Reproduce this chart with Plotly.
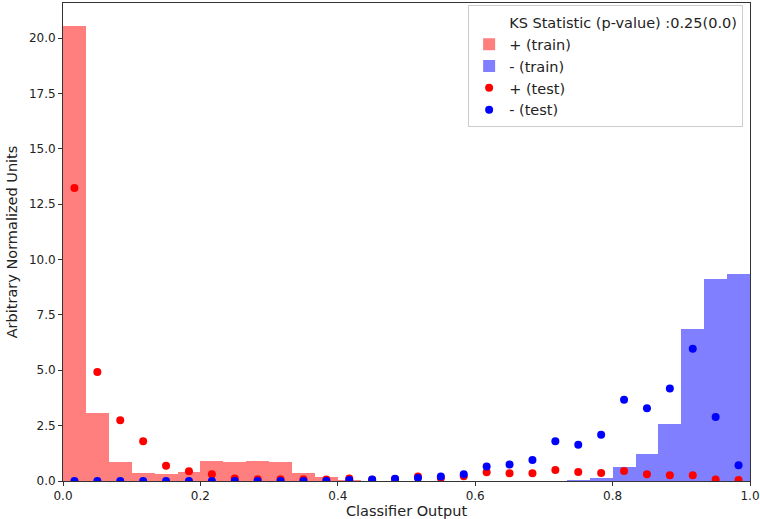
import numpy as np
import plotly.graph_objects as go

# 30 equal bins on [0, 1]
n_bins = 30
red_train = [20.55, 3.06, 0.86, 0.36, 0.32, 0.41, 0.91, 0.86, 0.91, 0.86,
             0.36, 0.18, 0.06, 0.0, 0.0, 0.0, 0.0, 0.0, 0.0, 0.0,
             0.0, 0.0, 0.0, 0.0, 0.0, 0.0, 0.0, 0.0, 0.0, 0.0]
blue_train = [0.0, 0.0, 0.0, 0.0, 0.0, 0.0, 0.0, 0.0, 0.0, 0.0,
              0.0, 0.0, 0.0, 0.0, 0.0, 0.0, 0.0, 0.0, 0.0, 0.0,
              0.0, 0.0, 0.03, 0.12, 0.64, 1.21, 2.56, 6.86, 9.10, 9.33]
red_test = [13.23, 4.92, 2.74, 1.79, 0.69, 0.44, 0.30, 0.11, 0.08, 0.08,
            0.08, 0.07, 0.11, 0.06, 0.09, 0.20, 0.13, 0.22, 0.39, 0.35,
            0.35, 0.50, 0.41, 0.36, 0.45, 0.30, 0.26, 0.26, 0.07, 0.05]
blue_test = [0.0, 0.0, 0.0, 0.0, 0.0, 0.0, 0.0, 0.0, 0.0, 0.0,
             0.0, 0.0, 0.05, 0.07, 0.10, 0.14, 0.20, 0.30, 0.65, 0.75,
             0.95, 1.79, 1.64, 2.09, 3.67, 3.28, 4.18, 5.97, 2.89, 0.71]
x_ticks = [0.0, 0.2, 0.4, 0.6, 0.8, 1.0]
y_ticks = [0.0, 2.5, 5.0, 7.5, 10.0, 12.5, 15.0, 17.5, 20.0]
ks_label = "KS Statistic (p-value) :0.25(0.0)"

edges = np.linspace(0, 1, n_bins + 1)
centers = (edges[:-1] + edges[1:]) / 2
width = 1.0 / n_bins

font = "DejaVu Sans"
fig = go.Figure()
fig.add_trace(go.Bar(x=centers, y=red_train, width=width, name="+ (train)",
                     marker=dict(color="rgba(255,0,0,0.5)", line=dict(width=0)),
                     legendrank=2))
fig.add_trace(go.Bar(x=centers, y=blue_train, width=width, name="- (train)",
                     marker=dict(color="rgba(0,0,255,0.5)", line=dict(width=0)),
                     legendrank=3))
fig.add_trace(go.Scatter(x=[None], y=[None], mode="markers", name=ks_label,
                         marker=dict(color="rgba(0,0,0,0)", size=1),
                         legendrank=1))
fig.add_trace(go.Scatter(x=centers, y=red_test, mode="markers", name="+ (test)",
                         marker=dict(color="red", size=8), legendrank=4))
fig.add_trace(go.Scatter(x=centers, y=blue_test, mode="markers", name="- (test)",
                         marker=dict(color="blue", size=8), legendrank=5))

fig.update_layout(
    width=760, height=519,
    margin=dict(l=63, r=10, t=3, b=38),
    paper_bgcolor="white", plot_bgcolor="white",
    barmode="overlay", bargap=0,
    font=dict(family=font, size=12, color="#222222"),
    showlegend=True,
    legend=dict(x=0.99, y=0.995, xanchor="right", yanchor="top",
                bgcolor="rgba(255,255,255,0.8)", bordercolor="#cccccc",
                borderwidth=1, font=dict(size=14.5, family=font, color="#222222"),
                itemwidth=30, tracegroupgap=0),
)
fig.update_xaxes(range=[0, 1], tickvals=x_ticks, ticktext=[f"{v:.1f}" for v in x_ticks],
                 ticklabeloverflow="allow", automargin=False,
                 showgrid=False, zeroline=False, showline=True, linecolor="#333333",
                 linewidth=1, mirror=True, ticks="outside", ticklen=4, tickcolor="#333333",
                 title=dict(text="Classifier Output", font=dict(size=14.5, family=font), standoff=2))
fig.update_yaxes(range=[0, 21.58], tickvals=y_ticks, ticktext=[f"{v:.1f}" for v in y_ticks],
                 showgrid=False, zeroline=False, showline=True, linecolor="#333333",
                 linewidth=1, mirror=True, ticks="outside", ticklen=4, tickcolor="#333333",
                 title=dict(text="Arbitrary Normalized Units", font=dict(size=14.5, family=font), standoff=7))

fig.write_html("out.html")
